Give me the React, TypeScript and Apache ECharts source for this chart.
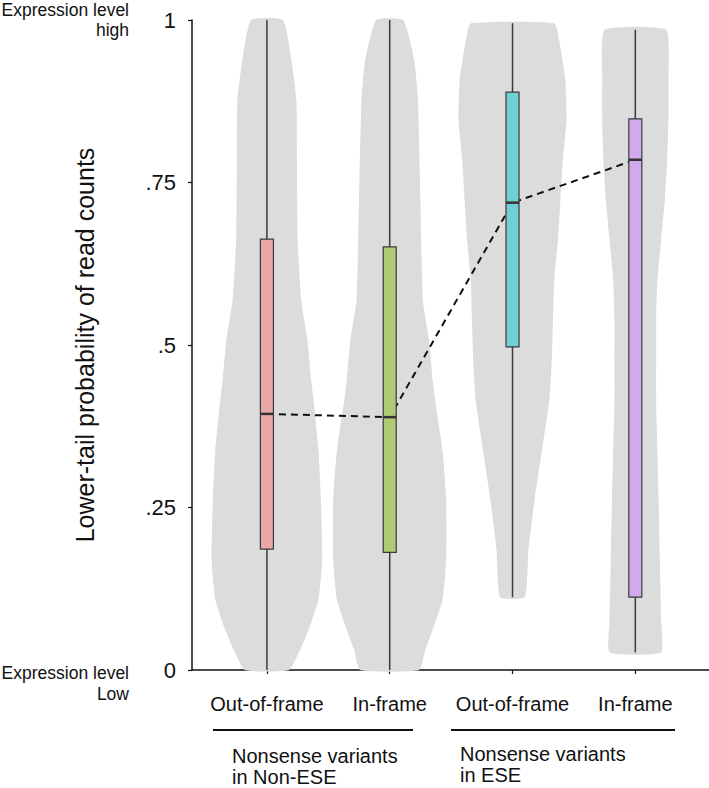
import React, { useEffect, useRef } from "react";
import * as echarts from "echarts";

// ---------- data ----------
const categories = ["Out-of-frame", "In-frame", "Out-of-frame", "In-frame"];
const xPositions = [1, 2, 3, 4];
const groupLabels = ["Nonsense variants\nin Non-ESE", "Nonsense variants\nin ESE"];
const yTickValues = [0, 0.25, 0.5, 0.75, 1];
const yTickLabels = ["0", ".25", ".5", ".75", "1"];

// [min, Q1, median, Q3, max]
const boxOutOfFrameNonESE = [0, 0.186, 0.394, 0.663, 1];
const boxInFrameNonESE = [0, 0.181, 0.389, 0.651, 1];
const boxOutOfFrameESE = [0.112, 0.497, 0.719, 0.889, 0.995];
const boxInFrameESE = [0.027, 0.112, 0.785, 0.848, 0.985];
const medians = [0.394, 0.389, 0.719, 0.785];

// violin profiles: [y value, half width in x units]
const violinOutOfFrameNonESE = [
  [0.0, 0.18], [0.031, 0.27], [0.062, 0.34], [0.108, 0.42], [0.169, 0.45],
  [0.262, 0.44], [0.338, 0.42], [0.415, 0.38], [0.446, 0.36], [0.508, 0.33],
  [0.569, 0.28], [0.662, 0.25], [0.785, 0.245], [0.877, 0.24], [0.938, 0.2], [1.0, 0.13],
];
const violinInFrameNonESE = [
  [0.0, 0.24], [0.031, 0.29], [0.062, 0.35], [0.108, 0.43], [0.169, 0.46],
  [0.262, 0.46], [0.338, 0.43], [0.415, 0.37], [0.446, 0.35], [0.508, 0.32],
  [0.569, 0.27], [0.723, 0.25], [0.877, 0.23], [0.938, 0.2], [1.0, 0.11],
];
const violinOutOfFrameESE = [
  [0.112, 0.1], [0.185, 0.13], [0.262, 0.18], [0.338, 0.24], [0.415, 0.3],
  [0.477, 0.32], [0.538, 0.33], [0.6, 0.34], [0.662, 0.37], [0.723, 0.39],
  [0.785, 0.41], [0.846, 0.44], [0.908, 0.43], [0.969, 0.38], [0.995, 0.34],
];
const violinInFrameESE = [
  [0.027, 0.21], [0.077, 0.21], [0.169, 0.2], [0.262, 0.19], [0.338, 0.18],
  [0.415, 0.17], [0.477, 0.17], [0.538, 0.17], [0.6, 0.18], [0.662, 0.21],
  [0.723, 0.24], [0.785, 0.26], [0.846, 0.27], [0.908, 0.27], [0.985, 0.25],
];

const boxColors = ["#E9A9A8", "#AECA72", "#6FCFD2", "#D3A9EE"];

export default function App() {
  const ref = useRef<HTMLDivElement>(null);

  useEffect(() => {
    document.body.style.margin = "0";
    if (!ref.current) return;
    const chart = echarts.init(ref.current, null, { renderer: "svg" });
    const violins = [violinOutOfFrameNonESE, violinInFrameNonESE, violinOutOfFrameESE, violinInFrameESE];
    const boxes = [boxOutOfFrameNonESE, boxInFrameNonESE, boxOutOfFrameESE, boxInFrameESE];
    const font = "'Liberation Sans', Arial, Helvetica, sans-serif";
    const textColor = "#111";

    chart.setOption({
      animation: false,
      grid: { left: 192, right: 0, top: 20, bottom: 118, outerBoundsMode: "none", containLabel: false },
      xAxis: {
        type: "value",
        min: 0.39,
        max: 4.6,
        splitLine: { show: false },
        axisLine: { show: true, onZero: false, lineStyle: { color: "#111", width: 1.5 } },
        axisTick: { show: true, customValues: xPositions, length: 4, lineStyle: { color: "#111", width: 1.2 } },
        axisLabel: {
          customValues: xPositions,
          formatter: (v: number) => categories[Math.round(v) - 1] ?? "",
          fontSize: 20,
          color: textColor,
          fontFamily: font,
          margin: 24,
        },
      },
      yAxis: {
        type: "value",
        min: 0,
        max: 1,
        interval: 0.25,
        name: "Lower-tail probability of read counts",
        nameLocation: "middle",
        nameGap: 95,
        nameTextStyle: { fontSize: 25, color: textColor, fontFamily: font },
        splitLine: { show: false },
        axisLine: { show: true, lineStyle: { color: "#111", width: 1.5 } },
        axisTick: { show: true, length: 4, lineStyle: { color: "#111", width: 1.2 } },
        axisLabel: {
          formatter: (v: number) => {
            const i = yTickValues.findIndex((t) => Math.abs(t - v) < 1e-6);
            return i >= 0 ? yTickLabels[i] : "";
          },
          fontSize: 22,
          color: textColor,
          fontFamily: font,
          margin: 16,
        },
      },
      series: [
        {
          type: "custom",
          z: 1,
          data: xPositions.map((x) => [x]),
          encode: { x: 0 },
          renderItem: (params: any, api: any) => {
            const prof = violins[params.dataIndex];
            const x = api.value(0);
            const left = prof.map(([y, hw]) => api.coord([x - hw, y]));
            const right = prof.slice().reverse().map(([y, hw]) => api.coord([x + hw, y]));
            return {
              type: "polygon",
              shape: { points: left.concat(right), smooth: 0.15 },
              style: { fill: "#DCDCDC", stroke: "none" },
            };
          },
        },
        {
          type: "line",
          z: 2,
          data: medians.map((m, i) => [xPositions[i], m]),
          symbol: "none",
          lineStyle: { color: "#111", width: 2, type: [7, 5] },
        },
        {
          type: "custom",
          z: 3,
          data: xPositions.map((x, i) => [x, ...boxes[i]]),
          encode: { x: 0, y: [1, 2, 3, 4, 5] },
          renderItem: (params: any, api: any) => {
            const x = api.value(0);
            const [mn, q1, md, q3, mx] = [1, 2, 3, 4, 5].map((k) => api.value(k));
            const halfW = api.size([0.053, 0])[0];
            const pMin = api.coord([x, mn]);
            const pMax = api.coord([x, mx]);
            const pQ1 = api.coord([x, q1]);
            const pQ3 = api.coord([x, q3]);
            const pMd = api.coord([x, md]);
            return {
              type: "group",
              children: [
                {
                  type: "line",
                  shape: { x1: pMin[0], y1: pMin[1], x2: pMax[0], y2: pMax[1] },
                  style: { stroke: "#3a3a3a", lineWidth: 1.5 },
                },
                {
                  type: "rect",
                  shape: { x: pQ3[0] - halfW, y: pQ3[1], width: halfW * 2, height: pQ1[1] - pQ3[1] },
                  style: { fill: boxColors[params.dataIndex], stroke: "#3a3a3a", lineWidth: 1.2 },
                },
                {
                  type: "line",
                  shape: { x1: pMd[0] - halfW, y1: pMd[1], x2: pMd[0] + halfW, y2: pMd[1] },
                  style: { stroke: "#333", lineWidth: 2.5 },
                },
              ],
            };
          },
        },
      ],
      graphic: [
        { type: "text", x: 129, y: 10, style: { text: "Expression level", fontSize: 17.5, fontFamily: font, fill: textColor, textAlign: "right", textVerticalAlign: "middle" } },
        { type: "text", x: 129, y: 30, style: { text: "high", fontSize: 17.5, fontFamily: font, fill: textColor, textAlign: "right", textVerticalAlign: "middle" } },
        { type: "text", x: 129, y: 673, style: { text: "Expression level", fontSize: 17.5, fontFamily: font, fill: textColor, textAlign: "right", textVerticalAlign: "middle" } },
        { type: "text", x: 129, y: 694, style: { text: "Low", fontSize: 17.5, fontFamily: font, fill: textColor, textAlign: "right", textVerticalAlign: "middle" } },
        { type: "line", shape: { x1: 213, y1: 730, x2: 413, y2: 730 }, style: { stroke: "#111", lineWidth: 2 } },
        { type: "line", shape: { x1: 451, y1: 730, x2: 675, y2: 730 }, style: { stroke: "#111", lineWidth: 2 } },
        { type: "text", x: 232, y: 745, style: { text: groupLabels[0], fontSize: 20, lineHeight: 21, fontFamily: font, fill: textColor, textAlign: "left", textVerticalAlign: "top" } },
        { type: "text", x: 460, y: 743, style: { text: groupLabels[1], fontSize: 20, lineHeight: 21, fontFamily: font, fill: textColor, textAlign: "left", textVerticalAlign: "top" } },
      ],
    });
    return () => chart.dispose();
  }, []);

  return <div ref={ref} style={{ width: 709, height: 788 }} />;
}
